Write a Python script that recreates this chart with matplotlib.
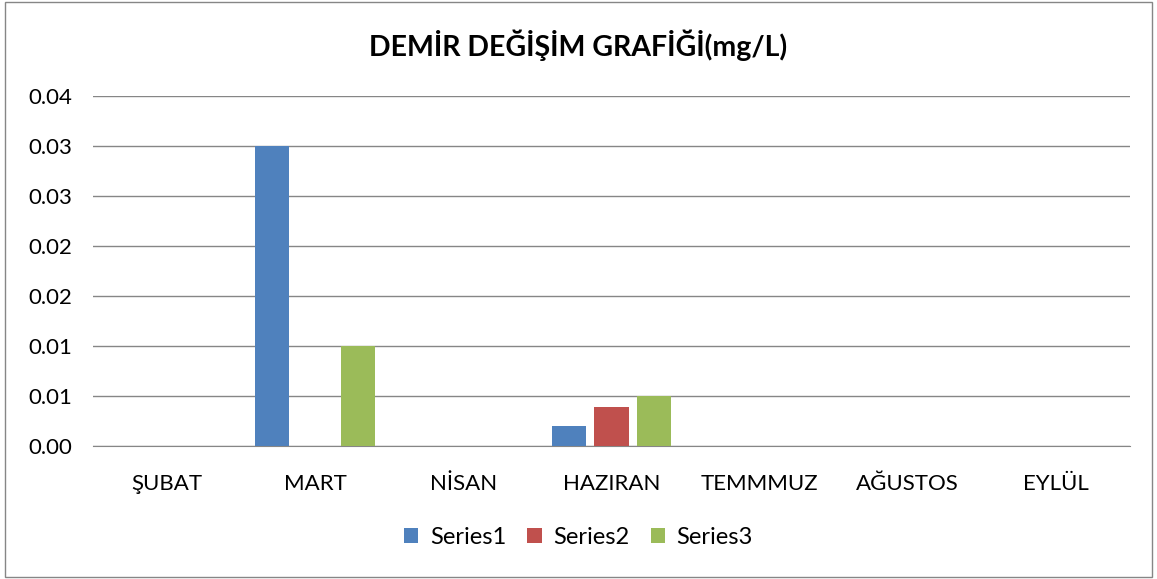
import matplotlib.pyplot as plt
import numpy as np

plt.rcParams['font.family'] = ['Lato', 'DejaVu Sans']

# data
months = ['ŞUBAT', 'MART', 'NİSAN', 'HAZIRAN', 'TEMMMUZ', 'AĞUSTOS', 'EYLÜL']
series1 = [0, 0.03, 0, 0.002, 0, 0, 0]
series2 = [0, 0, 0, 0.0039, 0, 0, 0]
series3 = [0, 0.01, 0, 0.005, 0, 0, 0]
names = ['Series1', 'Series2', 'Series3']
colors = ['#4F81BD', '#C0504D', '#9BBB59']

fig = plt.figure(figsize=(11.57, 5.79), dpi=100)
fig.patch.set_facecolor('white')
# outer border like an Excel chart frame
fig.add_artist(plt.Rectangle((0.004, 0.004), 0.992, 0.992, transform=fig.transFigure,
                             fill=False, edgecolor='#868686', linewidth=1))

ax = fig.add_axes([93/1157, 1-446/579, (1130-93)/1157, (446-96)/579])

x = np.arange(len(months))
w = 0.23
off = 0.29
for i, (vals, name, c) in enumerate(zip([series1, series2, series3], names, colors)):
    ax.bar(x + (i-1)*off, vals, width=w, color=c, label=name, zorder=3)

ax.set_xlim(-0.5, len(months)-0.5)
ax.set_ylim(0, 0.035)
yt = np.arange(0, 0.0351, 0.005)
ax.set_yticks(yt)
ax.set_yticklabels(['0.00', '0.01', '0.01', '0.02', '0.02', '0.03', '0.03', '0.04'])
ax.set_xticks(x)
ax.set_xticklabels(months)
ax.tick_params(axis='both', length=0, labelsize=16, colors='black')
ax.tick_params(axis='x', pad=20)
ax.tick_params(axis='y', pad=15)
ax.grid(axis='y', color='#868686', linewidth=1, zorder=0)
for s in ['top', 'right', 'left']:
    ax.spines[s].set_visible(False)
ax.spines['bottom'].set_color('#868686')

fig.text(0.5, 1-45/579, 'DEMİR DEĞİŞİM GRAFİĞİ(mg/L)', ha='center', va='center',
         fontsize=20.5, fontweight='bold')

fig.legend(loc='center', bbox_to_anchor=(0.5, 1-537/579), ncol=3, frameon=False,
           fontsize=17, handlelength=0.6, handleheight=0.6, columnspacing=0.9,
           handletextpad=0.5)

fig.savefig('out.png', dpi=100)
